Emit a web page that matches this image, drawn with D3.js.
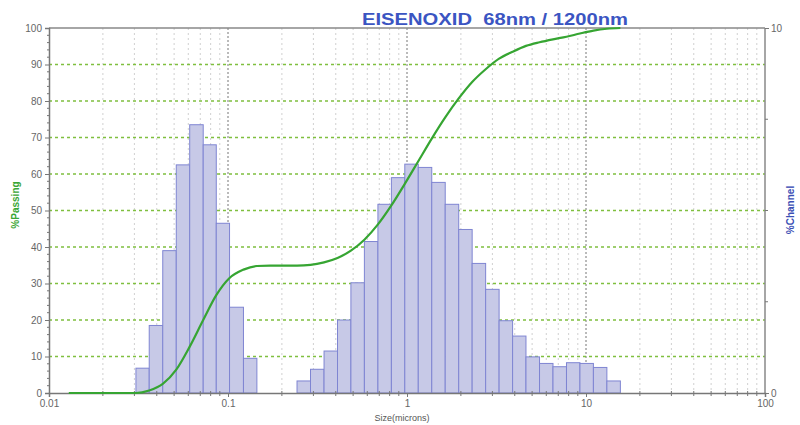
<!DOCTYPE html>
<html><head><meta charset="utf-8">
<script src="https://cdn.jsdelivr.net/npm/d3@7"></script>
<style>body{margin:0;background:#fff}</style>
</head><body><svg id="c" width="800" height="425"></svg>
<script>
// ---- data ----
const titleText = "EISENOXID  68nm / 1200nm";
// channel edges (microns), ascending
const channelEdges = [0.0306,0.0363,0.0432,0.0514,0.0611,0.0727,0.086,0.102,0.122,0.145,0.172,0.204,
  0.243,0.289,0.344,0.409,0.486,0.578,0.688,0.818,0.972,1.156,1.375,1.635,1.945,2.312,2.75,3.27,3.89,
  4.62,5.5,6.54,7.78,9.25,11,13.08,15.56];
// % channel for each bin between consecutive edges (right axis, 0-10)
const channelPct = [0.68,1.85,3.9,6.25,7.35,6.8,4.65,2.35,0.95,0,0,0,
  0.33,0.65,1.15,2.0,3.02,4.15,5.17,5.9,6.27,6.18,5.77,5.17,4.48,3.55,2.84,1.98,1.56,0.99,0.81,0.72,0.83,0.81,0.70,0.33];
// cumulative % passing curve (left axis)
const passSize = [0.0129,0.0153,0.0182,0.0216,0.0257,0.0306,0.0363,0.0432,0.0514,0.0611,0.0727,0.086,0.102,
  0.122,0.145,0.172,0.204,0.243,0.289,0.344,0.409,0.486,0.578,0.688,0.818,0.972,1.156,1.375,1.635,1.945,
  2.312,2.75,3.27,3.89,4.62,5.5,6.54,7.78,9.25,11,13.08,15.56];
const passPct = [0,0,0,0,0,0,0.7,2.5,6.4,12.7,20,26.8,31.5,33.8,34.8,34.9,34.9,34.9,35.1,35.8,37,39,42,
  46.2,51.4,57.3,63.5,69.7,75.5,80.7,85.2,88.7,91.6,93.5,95.1,96.1,96.9,97.6,98.5,99.3,99.8,100];
const xTickValues = [0.01,0.1,1,10,100];
const xTickLabels = ["0.01","0.1","1","10","100"];
const yLeftTicks = [0,10,20,30,40,50,60,70,80,90,100];
const yRightLabels = [0,10];

// ---- layout ----
const L = 49, R = 765, T = 28, B = 393;
const svg = d3.select("#c");
const font = "'Liberation Sans', Arial, sans-serif";
const x = d3.scaleLog().domain([0.01,100]).range([L,R]);
const yL = d3.scaleLinear().domain([0,100]).range([B,T]);
const yR = d3.scaleLinear().domain([0,10]).range([B,T]);

// minor positions
const minors = [];
[0.01,0.1,1,10].forEach(d => { for (let k=2;k<=9;k++) minors.push(d*k); });

// vertical grid
svg.append("g").selectAll("line").data(minors).join("line")
  .attr("x1", d=>x(d)).attr("x2", d=>x(d)).attr("y1", T).attr("y2", B)
  .attr("stroke", "#d0d0d0").attr("stroke-width", 1).attr("stroke-dasharray", "2,3");
svg.append("g").selectAll("line").data([0.1,1,10]).join("line")
  .attr("x1", d=>x(d)).attr("x2", d=>x(d)).attr("y1", T).attr("y2", B)
  .attr("stroke", "#777").attr("stroke-width", 1).attr("stroke-dasharray", "2,2");
// horizontal grid
svg.append("g").selectAll("line").data(d3.range(10,100,10)).join("line")
  .attr("x1", L).attr("x2", R).attr("y1", d=>yL(d)).attr("y2", d=>yL(d))
  .attr("stroke", "#7fbf3f").attr("stroke-width", 1.3).attr("stroke-dasharray", "3,3");

// bars
const bins = channelPct.map((v,i) => ({lo: channelEdges[i], hi: channelEdges[i+1], v})).filter(b => b.v > 0);
svg.append("g").selectAll("rect").data(bins).join("rect")
  .attr("x", d=>x(d.lo)).attr("width", d=>x(d.hi)-x(d.lo))
  .attr("y", d=>yR(d.v)).attr("height", d=>yR(0)-yR(d.v))
  .attr("fill", "#c7c9e7").attr("stroke", "#7f85d2").attr("stroke-width", 1);

// axes frame
svg.append("line").attr("x1",L).attr("x2",R).attr("y1",T).attr("y2",T).attr("stroke","#888").attr("stroke-width",1.5);
svg.append("line").attr("x1",R).attr("x2",R).attr("y1",T).attr("y2",B).attr("stroke","#888").attr("stroke-width",1.5);

// left axis
const gL = svg.append("g").attr("transform", `translate(${L},0)`)
  .call(d3.axisLeft(yL).tickValues(yLeftTicks).tickSize(4).tickPadding(3));
gL.select(".domain").attr("stroke","#777").attr("stroke-width",1.5);
gL.selectAll(".tick line").attr("stroke","#777");
gL.selectAll("text").attr("fill","#666").style("font-family",font).style("font-size","10px");
svg.append("g").selectAll("line").data(d3.range(0,101,2).filter(v=>v%10)).join("line")
  .attr("x1",L-2).attr("x2",L+1).attr("y1",d=>yL(d)).attr("y2",d=>yL(d)).attr("stroke","#777");

// right axis
const gR = svg.append("g").attr("transform", `translate(${R},0)`)
  .call(d3.axisRight(yR).tickValues(yRightLabels).tickSize(4).tickPadding(2));
gR.select(".domain").remove();
gR.selectAll(".tick line").attr("stroke","#777");
gR.selectAll("text").attr("fill","#666").style("font-family",font).style("font-size","10px");
svg.append("g").selectAll("line").data([2.5,5,7.5]).join("line")
  .attr("x1",R).attr("x2",R+3).attr("y1",d=>yR(d)).attr("y2",d=>yR(d)).attr("stroke","#777");

// bottom axis
const gB = svg.append("g").attr("transform", `translate(0,${B})`)
  .call(d3.axisBottom(x).tickValues(xTickValues).tickFormat((d,i)=>xTickLabels[i]).tickSize(4).tickPadding(3));
gB.select(".domain").attr("stroke","#777").attr("stroke-width",1.5);
gB.selectAll(".tick line").attr("stroke","#777");
gB.selectAll("text").attr("fill","#666").style("font-family",font).style("font-size","10px");
svg.append("g").selectAll("line").data(minors).join("line")
  .attr("x1",d=>x(d)).attr("x2",d=>x(d)).attr("y1",B-2).attr("y2",B+3).attr("stroke","#777");

// cumulative curve
const line = d3.line().x((d,i)=>x(passSize[i])).y((d,i)=>yL(passPct[i])).curve(d3.curveMonotoneX);
svg.append("path").datum(passPct).attr("d", line)
  .attr("fill","none").attr("stroke","#36a532").attr("stroke-width",2.2);

// labels
svg.append("text").attr("x",402).attr("y",421).attr("text-anchor","middle")
  .style("font-family",font).style("font-size","9px").attr("fill","#555").text("Size(microns)");
svg.append("text").attr("transform","translate(19,205) rotate(-90)").attr("text-anchor","middle")
  .style("font-family",font).style("font-size","10px").style("font-weight","bold").attr("fill","#3aa635").text("%Passing");
svg.append("text").attr("transform","translate(794,210) rotate(-90)").attr("text-anchor","middle")
  .style("font-family",font).style("font-size","10px").style("font-weight","bold").attr("fill","#3b4fb5").text("%Channel");
svg.append("text").attr("x",362).attr("y",25).style("white-space","pre")
  .attr("textLength",266).attr("lengthAdjust","spacingAndGlyphs")
  .style("font-family",font).style("font-size","17px").style("font-weight","bold").attr("fill","#3b55c2").text(titleText);
</script></body></html>
